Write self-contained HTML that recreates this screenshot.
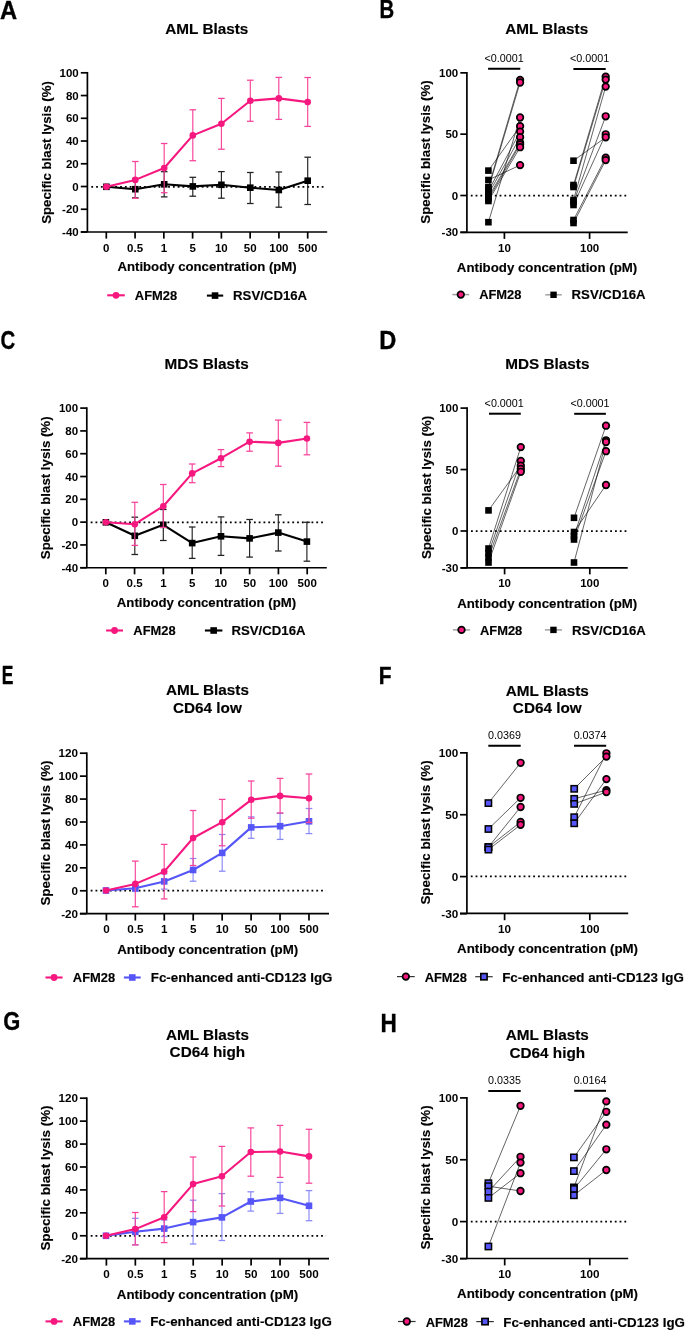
<!DOCTYPE html>
<html><head><meta charset="utf-8"><title>Figure</title>
<style>
html,body{margin:0;padding:0;background:#fff;width:685px;height:1330px;overflow:hidden;}
svg{display:block;will-change:transform;}
text{font-family:"Liberation Sans", sans-serif;fill:#000;}
.h{stroke:#000;stroke-width:0.15px;}
.L{stroke:#000;stroke-width:0.35px;}
</style></head><body>
<svg width="685" height="1330" viewBox="0 0 685 1330">
<rect width="685" height="1330" fill="#fff"/>
<text x="0" y="0" font-size="25.07" font-weight="bold" class="L" transform="translate(0.06,18.65) scale(0.945,1)">A</text>
<text x="206.80" y="34.30" font-size="15.3" font-weight="bold" text-anchor="middle" class="h">AML Blasts</text>
<text x="0" y="0" font-size="13.24" font-weight="bold" class="h" text-anchor="middle" transform="translate(50.60,152.50) rotate(-90)">Specific blast lysis (%)</text>
<text x="117.45" y="271.40" font-size="13.18" font-weight="bold" text-anchor="start" class="h">Antibody concentration (pM)</text>
<line x1="107.20" y1="295.30" x2="124.80" y2="295.30" stroke="#F6177F" stroke-width="2.1"/>
<circle cx="116.00" cy="295.30" r="3.4" fill="#F6177F" stroke="none" stroke-width="0"/>
<text x="134.83" y="300.00" font-size="12.9" font-weight="bold" text-anchor="start" class="h">AFM28</text>
<line x1="206.90" y1="295.60" x2="223.20" y2="295.60" stroke="#000" stroke-width="2.1"/>
<rect x="211.75" y="292.30" width="6.6" height="6.6" fill="#000" stroke="none" stroke-width="0"/>
<text x="233.09" y="300.00" font-size="13.2" font-weight="bold" text-anchor="start" class="h">RSV/CD16A</text>
<line x1="87.40" y1="71.95" x2="87.40" y2="232.00" stroke="#000" stroke-width="1.7"/>
<line x1="80.80" y1="232.00" x2="327.20" y2="232.00" stroke="#000" stroke-width="1.7"/>
<line x1="80.80" y1="72.80" x2="87.40" y2="72.80" stroke="#000" stroke-width="1.7"/>
<text x="78.70" y="76.95" font-size="11.5" font-weight="bold" text-anchor="end">100</text>
<line x1="80.80" y1="95.54" x2="87.40" y2="95.54" stroke="#000" stroke-width="1.7"/>
<text x="78.70" y="99.69" font-size="11.5" font-weight="bold" text-anchor="end">80</text>
<line x1="80.80" y1="118.29" x2="87.40" y2="118.29" stroke="#000" stroke-width="1.7"/>
<text x="78.70" y="122.44" font-size="11.5" font-weight="bold" text-anchor="end">60</text>
<line x1="80.80" y1="141.03" x2="87.40" y2="141.03" stroke="#000" stroke-width="1.7"/>
<text x="78.70" y="145.18" font-size="11.5" font-weight="bold" text-anchor="end">40</text>
<line x1="80.80" y1="163.77" x2="87.40" y2="163.77" stroke="#000" stroke-width="1.7"/>
<text x="78.70" y="167.92" font-size="11.5" font-weight="bold" text-anchor="end">20</text>
<line x1="80.80" y1="186.51" x2="87.40" y2="186.51" stroke="#000" stroke-width="1.7"/>
<text x="78.70" y="190.66" font-size="11.5" font-weight="bold" text-anchor="end">0</text>
<line x1="80.80" y1="209.26" x2="87.40" y2="209.26" stroke="#000" stroke-width="1.7"/>
<text x="78.70" y="213.41" font-size="11.5" font-weight="bold" text-anchor="end">-20</text>
<line x1="80.80" y1="232.00" x2="87.40" y2="232.00" stroke="#000" stroke-width="1.7"/>
<text x="78.70" y="236.15" font-size="11.5" font-weight="bold" text-anchor="end">-40</text>
<line x1="106.30" y1="232.00" x2="106.30" y2="238.60" stroke="#000" stroke-width="1.7"/>
<text x="106.30" y="251.50" font-size="11.5" font-weight="bold" text-anchor="middle">0</text>
<line x1="135.07" y1="232.00" x2="135.07" y2="238.60" stroke="#000" stroke-width="1.7"/>
<text x="135.07" y="251.50" font-size="11.5" font-weight="bold" text-anchor="middle">0.5</text>
<line x1="163.84" y1="232.00" x2="163.84" y2="238.60" stroke="#000" stroke-width="1.7"/>
<text x="163.84" y="251.50" font-size="11.5" font-weight="bold" text-anchor="middle">1</text>
<line x1="192.61" y1="232.00" x2="192.61" y2="238.60" stroke="#000" stroke-width="1.7"/>
<text x="192.61" y="251.50" font-size="11.5" font-weight="bold" text-anchor="middle">5</text>
<line x1="221.38" y1="232.00" x2="221.38" y2="238.60" stroke="#000" stroke-width="1.7"/>
<text x="221.38" y="251.50" font-size="11.5" font-weight="bold" text-anchor="middle">10</text>
<line x1="250.15" y1="232.00" x2="250.15" y2="238.60" stroke="#000" stroke-width="1.7"/>
<text x="250.15" y="251.50" font-size="11.5" font-weight="bold" text-anchor="middle">50</text>
<line x1="278.92" y1="232.00" x2="278.92" y2="238.60" stroke="#000" stroke-width="1.7"/>
<text x="278.92" y="251.50" font-size="11.5" font-weight="bold" text-anchor="middle">100</text>
<line x1="307.69" y1="232.00" x2="307.69" y2="238.60" stroke="#000" stroke-width="1.7"/>
<text x="307.69" y="251.50" font-size="11.5" font-weight="bold" text-anchor="middle">500</text>
<line x1="91.30" y1="186.80" x2="324.20" y2="186.80" stroke="#000" stroke-width="1.8" stroke-dasharray="1.8 3.0"/>
<line x1="135.30" y1="178.50" x2="135.30" y2="197.80" stroke="#222" stroke-width="1.15"/>
<line x1="132.00" y1="178.50" x2="138.60" y2="178.50" stroke="#222" stroke-width="1.265"/>
<line x1="132.00" y1="197.80" x2="138.60" y2="197.80" stroke="#222" stroke-width="1.265"/>
<line x1="164.20" y1="171.70" x2="164.20" y2="196.90" stroke="#222" stroke-width="1.15"/>
<line x1="160.90" y1="171.70" x2="167.50" y2="171.70" stroke="#222" stroke-width="1.265"/>
<line x1="160.90" y1="196.90" x2="167.50" y2="196.90" stroke="#222" stroke-width="1.265"/>
<line x1="192.80" y1="177.30" x2="192.80" y2="196.20" stroke="#222" stroke-width="1.15"/>
<line x1="189.50" y1="177.30" x2="196.10" y2="177.30" stroke="#222" stroke-width="1.265"/>
<line x1="189.50" y1="196.20" x2="196.10" y2="196.20" stroke="#222" stroke-width="1.265"/>
<line x1="221.40" y1="171.60" x2="221.40" y2="198.20" stroke="#222" stroke-width="1.15"/>
<line x1="218.10" y1="171.60" x2="224.70" y2="171.60" stroke="#222" stroke-width="1.265"/>
<line x1="218.10" y1="198.20" x2="224.70" y2="198.20" stroke="#222" stroke-width="1.265"/>
<line x1="250.30" y1="172.50" x2="250.30" y2="203.50" stroke="#222" stroke-width="1.15"/>
<line x1="247.00" y1="172.50" x2="253.60" y2="172.50" stroke="#222" stroke-width="1.265"/>
<line x1="247.00" y1="203.50" x2="253.60" y2="203.50" stroke="#222" stroke-width="1.265"/>
<line x1="278.80" y1="172.00" x2="278.80" y2="207.20" stroke="#222" stroke-width="1.15"/>
<line x1="275.50" y1="172.00" x2="282.10" y2="172.00" stroke="#222" stroke-width="1.265"/>
<line x1="275.50" y1="207.20" x2="282.10" y2="207.20" stroke="#222" stroke-width="1.265"/>
<line x1="307.70" y1="157.20" x2="307.70" y2="204.50" stroke="#222" stroke-width="1.15"/>
<line x1="304.40" y1="157.20" x2="311.00" y2="157.20" stroke="#222" stroke-width="1.265"/>
<line x1="304.40" y1="204.50" x2="311.00" y2="204.50" stroke="#222" stroke-width="1.265"/>
<polyline fill="none" stroke="#000" stroke-width="2.1" stroke-linejoin="round" points="106.40,186.80 135.30,189.20 164.20,184.30 192.80,186.40 221.40,184.80 250.30,187.70 278.80,190.00 307.70,180.70"/>
<rect x="103.10" y="183.50" width="6.6" height="6.6" fill="#000" stroke="none" stroke-width="0"/>
<rect x="132.00" y="185.90" width="6.6" height="6.6" fill="#000" stroke="none" stroke-width="0"/>
<rect x="160.90" y="181.00" width="6.6" height="6.6" fill="#000" stroke="none" stroke-width="0"/>
<rect x="189.50" y="183.10" width="6.6" height="6.6" fill="#000" stroke="none" stroke-width="0"/>
<rect x="218.10" y="181.50" width="6.6" height="6.6" fill="#000" stroke="none" stroke-width="0"/>
<rect x="247.00" y="184.40" width="6.6" height="6.6" fill="#000" stroke="none" stroke-width="0"/>
<rect x="275.50" y="186.70" width="6.6" height="6.6" fill="#000" stroke="none" stroke-width="0"/>
<rect x="304.40" y="177.40" width="6.6" height="6.6" fill="#000" stroke="none" stroke-width="0"/>
<line x1="135.30" y1="161.50" x2="135.30" y2="198.30" stroke="#F7449A" stroke-width="1.15"/>
<line x1="132.00" y1="161.50" x2="138.60" y2="161.50" stroke="#F7449A" stroke-width="1.265"/>
<line x1="132.00" y1="198.30" x2="138.60" y2="198.30" stroke="#F7449A" stroke-width="1.265"/>
<line x1="164.20" y1="143.50" x2="164.20" y2="192.70" stroke="#F7449A" stroke-width="1.15"/>
<line x1="160.90" y1="143.50" x2="167.50" y2="143.50" stroke="#F7449A" stroke-width="1.265"/>
<line x1="160.90" y1="192.70" x2="167.50" y2="192.70" stroke="#F7449A" stroke-width="1.265"/>
<line x1="192.80" y1="109.80" x2="192.80" y2="160.70" stroke="#F7449A" stroke-width="1.15"/>
<line x1="189.50" y1="109.80" x2="196.10" y2="109.80" stroke="#F7449A" stroke-width="1.265"/>
<line x1="189.50" y1="160.70" x2="196.10" y2="160.70" stroke="#F7449A" stroke-width="1.265"/>
<line x1="221.40" y1="98.40" x2="221.40" y2="149.20" stroke="#F7449A" stroke-width="1.15"/>
<line x1="218.10" y1="98.40" x2="224.70" y2="98.40" stroke="#F7449A" stroke-width="1.265"/>
<line x1="218.10" y1="149.20" x2="224.70" y2="149.20" stroke="#F7449A" stroke-width="1.265"/>
<line x1="250.30" y1="80.20" x2="250.30" y2="121.30" stroke="#F7449A" stroke-width="1.15"/>
<line x1="247.00" y1="80.20" x2="253.60" y2="80.20" stroke="#F7449A" stroke-width="1.265"/>
<line x1="247.00" y1="121.30" x2="253.60" y2="121.30" stroke="#F7449A" stroke-width="1.265"/>
<line x1="278.80" y1="77.40" x2="278.80" y2="119.40" stroke="#F7449A" stroke-width="1.15"/>
<line x1="275.50" y1="77.40" x2="282.10" y2="77.40" stroke="#F7449A" stroke-width="1.265"/>
<line x1="275.50" y1="119.40" x2="282.10" y2="119.40" stroke="#F7449A" stroke-width="1.265"/>
<line x1="307.70" y1="77.50" x2="307.70" y2="126.40" stroke="#F7449A" stroke-width="1.15"/>
<line x1="304.40" y1="77.50" x2="311.00" y2="77.50" stroke="#F7449A" stroke-width="1.265"/>
<line x1="304.40" y1="126.40" x2="311.00" y2="126.40" stroke="#F7449A" stroke-width="1.265"/>
<polyline fill="none" stroke="#F6177F" stroke-width="2.1" stroke-linejoin="round" points="106.40,186.80 135.30,179.90 164.20,168.00 192.80,135.40 221.40,123.80 250.30,100.70 278.80,98.40 307.70,102.10"/>
<circle cx="106.40" cy="186.80" r="3.3" fill="#F6177F" stroke="none" stroke-width="0"/>
<circle cx="135.30" cy="179.90" r="3.3" fill="#F6177F" stroke="none" stroke-width="0"/>
<circle cx="164.20" cy="168.00" r="3.3" fill="#F6177F" stroke="none" stroke-width="0"/>
<circle cx="192.80" cy="135.40" r="3.3" fill="#F6177F" stroke="none" stroke-width="0"/>
<circle cx="221.40" cy="123.80" r="3.3" fill="#F6177F" stroke="none" stroke-width="0"/>
<circle cx="250.30" cy="100.70" r="3.3" fill="#F6177F" stroke="none" stroke-width="0"/>
<circle cx="278.80" cy="98.40" r="3.3" fill="#F6177F" stroke="none" stroke-width="0"/>
<circle cx="307.70" cy="102.10" r="3.3" fill="#F6177F" stroke="none" stroke-width="0"/>
<text x="0" y="0" font-size="25.71" font-weight="bold" class="L" transform="translate(0.42,349.39) scale(0.791,1)">C</text>
<text x="206.60" y="369.00" font-size="15.3" font-weight="bold" text-anchor="middle" class="h">MDS Blasts</text>
<text x="0" y="0" font-size="13.24" font-weight="bold" class="h" text-anchor="middle" transform="translate(50.20,487.80) rotate(-90)">Specific blast lysis (%)</text>
<text x="116.85" y="606.80" font-size="13.18" font-weight="bold" text-anchor="start" class="h">Antibody concentration (pM)</text>
<line x1="106.10" y1="630.50" x2="123.00" y2="630.50" stroke="#F6177F" stroke-width="2.1"/>
<circle cx="114.55" cy="630.50" r="3.4" fill="#F6177F" stroke="none" stroke-width="0"/>
<text x="133.33" y="634.70" font-size="12.9" font-weight="bold" text-anchor="start" class="h">AFM28</text>
<line x1="204.90" y1="630.50" x2="222.40" y2="630.50" stroke="#000" stroke-width="2.1"/>
<rect x="210.35" y="627.20" width="6.6" height="6.6" fill="#000" stroke="none" stroke-width="0"/>
<text x="231.49" y="634.70" font-size="13.2" font-weight="bold" text-anchor="start" class="h">RSV/CD16A</text>
<line x1="86.80" y1="407.25" x2="86.80" y2="567.75" stroke="#000" stroke-width="1.7"/>
<line x1="80.20" y1="567.75" x2="326.80" y2="567.75" stroke="#000" stroke-width="1.7"/>
<line x1="80.20" y1="408.10" x2="86.80" y2="408.10" stroke="#000" stroke-width="1.7"/>
<text x="78.10" y="412.25" font-size="11.5" font-weight="bold" text-anchor="end">100</text>
<line x1="80.20" y1="430.91" x2="86.80" y2="430.91" stroke="#000" stroke-width="1.7"/>
<text x="78.10" y="435.06" font-size="11.5" font-weight="bold" text-anchor="end">80</text>
<line x1="80.20" y1="453.71" x2="86.80" y2="453.71" stroke="#000" stroke-width="1.7"/>
<text x="78.10" y="457.86" font-size="11.5" font-weight="bold" text-anchor="end">60</text>
<line x1="80.20" y1="476.52" x2="86.80" y2="476.52" stroke="#000" stroke-width="1.7"/>
<text x="78.10" y="480.67" font-size="11.5" font-weight="bold" text-anchor="end">40</text>
<line x1="80.20" y1="499.33" x2="86.80" y2="499.33" stroke="#000" stroke-width="1.7"/>
<text x="78.10" y="503.48" font-size="11.5" font-weight="bold" text-anchor="end">20</text>
<line x1="80.20" y1="522.14" x2="86.80" y2="522.14" stroke="#000" stroke-width="1.7"/>
<text x="78.10" y="526.29" font-size="11.5" font-weight="bold" text-anchor="end">0</text>
<line x1="80.20" y1="544.94" x2="86.80" y2="544.94" stroke="#000" stroke-width="1.7"/>
<text x="78.10" y="549.09" font-size="11.5" font-weight="bold" text-anchor="end">-20</text>
<line x1="80.20" y1="567.75" x2="86.80" y2="567.75" stroke="#000" stroke-width="1.7"/>
<text x="78.10" y="571.90" font-size="11.5" font-weight="bold" text-anchor="end">-40</text>
<line x1="105.80" y1="567.75" x2="105.80" y2="574.35" stroke="#000" stroke-width="1.7"/>
<text x="105.80" y="587.00" font-size="11.5" font-weight="bold" text-anchor="middle">0</text>
<line x1="134.57" y1="567.75" x2="134.57" y2="574.35" stroke="#000" stroke-width="1.7"/>
<text x="134.57" y="587.00" font-size="11.5" font-weight="bold" text-anchor="middle">0.5</text>
<line x1="163.34" y1="567.75" x2="163.34" y2="574.35" stroke="#000" stroke-width="1.7"/>
<text x="163.34" y="587.00" font-size="11.5" font-weight="bold" text-anchor="middle">1</text>
<line x1="192.11" y1="567.75" x2="192.11" y2="574.35" stroke="#000" stroke-width="1.7"/>
<text x="192.11" y="587.00" font-size="11.5" font-weight="bold" text-anchor="middle">5</text>
<line x1="220.88" y1="567.75" x2="220.88" y2="574.35" stroke="#000" stroke-width="1.7"/>
<text x="220.88" y="587.00" font-size="11.5" font-weight="bold" text-anchor="middle">10</text>
<line x1="249.65" y1="567.75" x2="249.65" y2="574.35" stroke="#000" stroke-width="1.7"/>
<text x="249.65" y="587.00" font-size="11.5" font-weight="bold" text-anchor="middle">50</text>
<line x1="278.42" y1="567.75" x2="278.42" y2="574.35" stroke="#000" stroke-width="1.7"/>
<text x="278.42" y="587.00" font-size="11.5" font-weight="bold" text-anchor="middle">100</text>
<line x1="307.19" y1="567.75" x2="307.19" y2="574.35" stroke="#000" stroke-width="1.7"/>
<text x="307.19" y="587.00" font-size="11.5" font-weight="bold" text-anchor="middle">500</text>
<line x1="90.70" y1="522.30" x2="323.80" y2="522.30" stroke="#000" stroke-width="1.8" stroke-dasharray="1.8 3.0"/>
<line x1="134.80" y1="517.20" x2="134.80" y2="554.50" stroke="#222" stroke-width="1.15"/>
<line x1="131.50" y1="517.20" x2="138.10" y2="517.20" stroke="#222" stroke-width="1.265"/>
<line x1="131.50" y1="554.50" x2="138.10" y2="554.50" stroke="#222" stroke-width="1.265"/>
<line x1="163.30" y1="509.50" x2="163.30" y2="540.50" stroke="#222" stroke-width="1.15"/>
<line x1="160.00" y1="509.50" x2="166.60" y2="509.50" stroke="#222" stroke-width="1.265"/>
<line x1="160.00" y1="540.50" x2="166.60" y2="540.50" stroke="#222" stroke-width="1.265"/>
<line x1="192.20" y1="527.00" x2="192.20" y2="558.40" stroke="#222" stroke-width="1.15"/>
<line x1="188.90" y1="527.00" x2="195.50" y2="527.00" stroke="#222" stroke-width="1.265"/>
<line x1="188.90" y1="558.40" x2="195.50" y2="558.40" stroke="#222" stroke-width="1.265"/>
<line x1="221.00" y1="516.90" x2="221.00" y2="555.40" stroke="#222" stroke-width="1.15"/>
<line x1="217.70" y1="516.90" x2="224.30" y2="516.90" stroke="#222" stroke-width="1.265"/>
<line x1="217.70" y1="555.40" x2="224.30" y2="555.40" stroke="#222" stroke-width="1.265"/>
<line x1="249.60" y1="519.50" x2="249.60" y2="557.10" stroke="#222" stroke-width="1.15"/>
<line x1="246.30" y1="519.50" x2="252.90" y2="519.50" stroke="#222" stroke-width="1.265"/>
<line x1="246.30" y1="557.10" x2="252.90" y2="557.10" stroke="#222" stroke-width="1.265"/>
<line x1="278.30" y1="514.80" x2="278.30" y2="551.00" stroke="#222" stroke-width="1.15"/>
<line x1="275.00" y1="514.80" x2="281.60" y2="514.80" stroke="#222" stroke-width="1.265"/>
<line x1="275.00" y1="551.00" x2="281.60" y2="551.00" stroke="#222" stroke-width="1.265"/>
<line x1="306.90" y1="522.30" x2="306.90" y2="561.20" stroke="#222" stroke-width="1.15"/>
<line x1="303.60" y1="522.30" x2="310.20" y2="522.30" stroke="#222" stroke-width="1.265"/>
<line x1="303.60" y1="561.20" x2="310.20" y2="561.20" stroke="#222" stroke-width="1.265"/>
<polyline fill="none" stroke="#000" stroke-width="2.1" stroke-linejoin="round" points="105.90,522.30 134.80,535.80 163.30,524.80 192.20,543.10 221.00,536.30 249.60,538.40 278.30,532.60 306.90,541.60"/>
<rect x="102.60" y="519.00" width="6.6" height="6.6" fill="#000" stroke="none" stroke-width="0"/>
<rect x="131.50" y="532.50" width="6.6" height="6.6" fill="#000" stroke="none" stroke-width="0"/>
<rect x="160.00" y="521.50" width="6.6" height="6.6" fill="#000" stroke="none" stroke-width="0"/>
<rect x="188.90" y="539.80" width="6.6" height="6.6" fill="#000" stroke="none" stroke-width="0"/>
<rect x="217.70" y="533.00" width="6.6" height="6.6" fill="#000" stroke="none" stroke-width="0"/>
<rect x="246.30" y="535.10" width="6.6" height="6.6" fill="#000" stroke="none" stroke-width="0"/>
<rect x="275.00" y="529.30" width="6.6" height="6.6" fill="#000" stroke="none" stroke-width="0"/>
<rect x="303.60" y="538.30" width="6.6" height="6.6" fill="#000" stroke="none" stroke-width="0"/>
<line x1="134.80" y1="502.30" x2="134.80" y2="545.40" stroke="#F7449A" stroke-width="1.15"/>
<line x1="131.50" y1="502.30" x2="138.10" y2="502.30" stroke="#F7449A" stroke-width="1.265"/>
<line x1="131.50" y1="545.40" x2="138.10" y2="545.40" stroke="#F7449A" stroke-width="1.265"/>
<line x1="163.30" y1="484.50" x2="163.30" y2="527.40" stroke="#F7449A" stroke-width="1.15"/>
<line x1="160.00" y1="484.50" x2="166.60" y2="484.50" stroke="#F7449A" stroke-width="1.265"/>
<line x1="160.00" y1="527.40" x2="166.60" y2="527.40" stroke="#F7449A" stroke-width="1.265"/>
<line x1="192.20" y1="464.00" x2="192.20" y2="482.70" stroke="#F7449A" stroke-width="1.15"/>
<line x1="188.90" y1="464.00" x2="195.50" y2="464.00" stroke="#F7449A" stroke-width="1.265"/>
<line x1="188.90" y1="482.70" x2="195.50" y2="482.70" stroke="#F7449A" stroke-width="1.265"/>
<line x1="221.00" y1="449.60" x2="221.00" y2="466.60" stroke="#F7449A" stroke-width="1.15"/>
<line x1="217.70" y1="449.60" x2="224.30" y2="449.60" stroke="#F7449A" stroke-width="1.265"/>
<line x1="217.70" y1="466.60" x2="224.30" y2="466.60" stroke="#F7449A" stroke-width="1.265"/>
<line x1="249.60" y1="432.90" x2="249.60" y2="451.20" stroke="#F7449A" stroke-width="1.15"/>
<line x1="246.30" y1="432.90" x2="252.90" y2="432.90" stroke="#F7449A" stroke-width="1.265"/>
<line x1="246.30" y1="451.20" x2="252.90" y2="451.20" stroke="#F7449A" stroke-width="1.265"/>
<line x1="278.30" y1="420.10" x2="278.30" y2="466.20" stroke="#F7449A" stroke-width="1.15"/>
<line x1="275.00" y1="420.10" x2="281.60" y2="420.10" stroke="#F7449A" stroke-width="1.265"/>
<line x1="275.00" y1="466.20" x2="281.60" y2="466.20" stroke="#F7449A" stroke-width="1.265"/>
<line x1="306.90" y1="422.40" x2="306.90" y2="454.80" stroke="#F7449A" stroke-width="1.15"/>
<line x1="303.60" y1="422.40" x2="310.20" y2="422.40" stroke="#F7449A" stroke-width="1.265"/>
<line x1="303.60" y1="454.80" x2="310.20" y2="454.80" stroke="#F7449A" stroke-width="1.265"/>
<polyline fill="none" stroke="#F6177F" stroke-width="2.1" stroke-linejoin="round" points="105.90,522.30 134.80,524.20 163.30,506.20 192.20,473.40 221.00,458.20 249.60,441.70 278.30,442.90 306.90,438.50"/>
<circle cx="105.90" cy="522.30" r="3.3" fill="#F6177F" stroke="none" stroke-width="0"/>
<circle cx="134.80" cy="524.20" r="3.3" fill="#F6177F" stroke="none" stroke-width="0"/>
<circle cx="163.30" cy="506.20" r="3.3" fill="#F6177F" stroke="none" stroke-width="0"/>
<circle cx="192.20" cy="473.40" r="3.3" fill="#F6177F" stroke="none" stroke-width="0"/>
<circle cx="221.00" cy="458.20" r="3.3" fill="#F6177F" stroke="none" stroke-width="0"/>
<circle cx="249.60" cy="441.70" r="3.3" fill="#F6177F" stroke="none" stroke-width="0"/>
<circle cx="278.30" cy="442.90" r="3.3" fill="#F6177F" stroke="none" stroke-width="0"/>
<circle cx="306.90" cy="438.50" r="3.3" fill="#F6177F" stroke="none" stroke-width="0"/>
<text x="0" y="0" font-size="24.85" font-weight="bold" class="L" transform="translate(1.78,683.65) scale(0.703,1)">E</text>
<text x="207.40" y="695.40" font-size="15.3" font-weight="bold" text-anchor="middle" class="h">AML Blasts</text>
<text x="207.40" y="713.20" font-size="15.3" font-weight="bold" text-anchor="middle" class="h">CD64 low</text>
<text x="0" y="0" font-size="13.48" font-weight="bold" class="h" text-anchor="middle" transform="translate(50.00,833.00) rotate(-90)">Specific blast lysis (%)</text>
<text x="117.25" y="953.60" font-size="13.31" font-weight="bold" text-anchor="start" class="h">Antibody concentration (pM)</text>
<line x1="45.50" y1="977.50" x2="62.60" y2="977.50" stroke="#F6177F" stroke-width="2.1"/>
<circle cx="54.05" cy="977.50" r="3.4" fill="#F6177F" stroke="none" stroke-width="0"/>
<text x="72.83" y="982.40" font-size="12.9" font-weight="bold" text-anchor="start" class="h">AFM28</text>
<line x1="123.90" y1="977.50" x2="140.70" y2="977.50" stroke="#5656F8" stroke-width="2.1"/>
<rect x="129.00" y="974.20" width="6.6" height="6.6" fill="#5656F8" stroke="none" stroke-width="0"/>
<text x="150.78" y="982.40" font-size="13.35" font-weight="bold" text-anchor="start" class="h">Fc-enhanced anti-CD123 IgG</text>
<line x1="86.80" y1="752.35" x2="86.80" y2="913.70" stroke="#000" stroke-width="1.7"/>
<line x1="79.90" y1="913.70" x2="329.00" y2="913.70" stroke="#000" stroke-width="1.7"/>
<line x1="79.90" y1="753.20" x2="86.80" y2="753.20" stroke="#000" stroke-width="1.7"/>
<text x="78.10" y="757.35" font-size="11.7" font-weight="bold" text-anchor="end">120</text>
<line x1="79.90" y1="776.13" x2="86.80" y2="776.13" stroke="#000" stroke-width="1.7"/>
<text x="78.10" y="780.28" font-size="11.7" font-weight="bold" text-anchor="end">100</text>
<line x1="79.90" y1="799.06" x2="86.80" y2="799.06" stroke="#000" stroke-width="1.7"/>
<text x="78.10" y="803.21" font-size="11.7" font-weight="bold" text-anchor="end">80</text>
<line x1="79.90" y1="821.99" x2="86.80" y2="821.99" stroke="#000" stroke-width="1.7"/>
<text x="78.10" y="826.14" font-size="11.7" font-weight="bold" text-anchor="end">60</text>
<line x1="79.90" y1="844.91" x2="86.80" y2="844.91" stroke="#000" stroke-width="1.7"/>
<text x="78.10" y="849.06" font-size="11.7" font-weight="bold" text-anchor="end">40</text>
<line x1="79.90" y1="867.84" x2="86.80" y2="867.84" stroke="#000" stroke-width="1.7"/>
<text x="78.10" y="871.99" font-size="11.7" font-weight="bold" text-anchor="end">20</text>
<line x1="79.90" y1="890.77" x2="86.80" y2="890.77" stroke="#000" stroke-width="1.7"/>
<text x="78.10" y="894.92" font-size="11.7" font-weight="bold" text-anchor="end">0</text>
<line x1="79.90" y1="913.70" x2="86.80" y2="913.70" stroke="#000" stroke-width="1.7"/>
<text x="78.10" y="917.85" font-size="11.7" font-weight="bold" text-anchor="end">-20</text>
<line x1="106.40" y1="913.70" x2="106.40" y2="920.60" stroke="#000" stroke-width="1.7"/>
<text x="106.40" y="933.20" font-size="11.7" font-weight="bold" text-anchor="middle">0</text>
<line x1="135.34" y1="913.70" x2="135.34" y2="920.60" stroke="#000" stroke-width="1.7"/>
<text x="135.34" y="933.20" font-size="11.7" font-weight="bold" text-anchor="middle">0.5</text>
<line x1="164.28" y1="913.70" x2="164.28" y2="920.60" stroke="#000" stroke-width="1.7"/>
<text x="164.28" y="933.20" font-size="11.7" font-weight="bold" text-anchor="middle">1</text>
<line x1="193.22" y1="913.70" x2="193.22" y2="920.60" stroke="#000" stroke-width="1.7"/>
<text x="193.22" y="933.20" font-size="11.7" font-weight="bold" text-anchor="middle">5</text>
<line x1="222.16" y1="913.70" x2="222.16" y2="920.60" stroke="#000" stroke-width="1.7"/>
<text x="222.16" y="933.20" font-size="11.7" font-weight="bold" text-anchor="middle">10</text>
<line x1="251.10" y1="913.70" x2="251.10" y2="920.60" stroke="#000" stroke-width="1.7"/>
<text x="251.10" y="933.20" font-size="11.7" font-weight="bold" text-anchor="middle">50</text>
<line x1="280.04" y1="913.70" x2="280.04" y2="920.60" stroke="#000" stroke-width="1.7"/>
<text x="280.04" y="933.20" font-size="11.7" font-weight="bold" text-anchor="middle">100</text>
<line x1="308.98" y1="913.70" x2="308.98" y2="920.60" stroke="#000" stroke-width="1.7"/>
<text x="308.98" y="933.20" font-size="11.7" font-weight="bold" text-anchor="middle">500</text>
<line x1="90.70" y1="890.60" x2="326.00" y2="890.60" stroke="#000" stroke-width="1.8" stroke-dasharray="1.8 3.0"/>
<line x1="135.30" y1="885.50" x2="135.30" y2="891.50" stroke="#8A8AF9" stroke-width="1.15"/>
<line x1="132.00" y1="885.50" x2="138.60" y2="885.50" stroke="#8A8AF9" stroke-width="1.265"/>
<line x1="132.00" y1="891.50" x2="138.60" y2="891.50" stroke="#8A8AF9" stroke-width="1.265"/>
<line x1="164.20" y1="873.90" x2="164.20" y2="889.10" stroke="#8A8AF9" stroke-width="1.15"/>
<line x1="160.90" y1="873.90" x2="167.50" y2="873.90" stroke="#8A8AF9" stroke-width="1.265"/>
<line x1="160.90" y1="889.10" x2="167.50" y2="889.10" stroke="#8A8AF9" stroke-width="1.265"/>
<line x1="193.10" y1="858.50" x2="193.10" y2="881.20" stroke="#8A8AF9" stroke-width="1.15"/>
<line x1="189.80" y1="858.50" x2="196.40" y2="858.50" stroke="#8A8AF9" stroke-width="1.265"/>
<line x1="189.80" y1="881.20" x2="196.40" y2="881.20" stroke="#8A8AF9" stroke-width="1.265"/>
<line x1="222.20" y1="834.50" x2="222.20" y2="871.20" stroke="#8A8AF9" stroke-width="1.15"/>
<line x1="218.90" y1="834.50" x2="225.50" y2="834.50" stroke="#8A8AF9" stroke-width="1.265"/>
<line x1="218.90" y1="871.20" x2="225.50" y2="871.20" stroke="#8A8AF9" stroke-width="1.265"/>
<line x1="251.20" y1="816.90" x2="251.20" y2="838.30" stroke="#8A8AF9" stroke-width="1.15"/>
<line x1="247.90" y1="816.90" x2="254.50" y2="816.90" stroke="#8A8AF9" stroke-width="1.265"/>
<line x1="247.90" y1="838.30" x2="254.50" y2="838.30" stroke="#8A8AF9" stroke-width="1.265"/>
<line x1="280.10" y1="813.40" x2="280.10" y2="839.40" stroke="#8A8AF9" stroke-width="1.15"/>
<line x1="276.80" y1="813.40" x2="283.40" y2="813.40" stroke="#8A8AF9" stroke-width="1.265"/>
<line x1="276.80" y1="839.40" x2="283.40" y2="839.40" stroke="#8A8AF9" stroke-width="1.265"/>
<line x1="309.00" y1="808.50" x2="309.00" y2="833.60" stroke="#8A8AF9" stroke-width="1.15"/>
<line x1="305.70" y1="808.50" x2="312.30" y2="808.50" stroke="#8A8AF9" stroke-width="1.265"/>
<line x1="305.70" y1="833.60" x2="312.30" y2="833.60" stroke="#8A8AF9" stroke-width="1.265"/>
<polyline fill="none" stroke="#5656F8" stroke-width="2.1" stroke-linejoin="round" points="106.00,890.50 135.30,888.20 164.20,881.40 193.10,870.00 222.20,852.90 251.20,827.40 280.10,826.20 309.00,821.30"/>
<rect x="102.70" y="887.20" width="6.6" height="6.6" fill="#5656F8" stroke="none" stroke-width="0"/>
<rect x="132.00" y="884.90" width="6.6" height="6.6" fill="#5656F8" stroke="none" stroke-width="0"/>
<rect x="160.90" y="878.10" width="6.6" height="6.6" fill="#5656F8" stroke="none" stroke-width="0"/>
<rect x="189.80" y="866.70" width="6.6" height="6.6" fill="#5656F8" stroke="none" stroke-width="0"/>
<rect x="218.90" y="849.60" width="6.6" height="6.6" fill="#5656F8" stroke="none" stroke-width="0"/>
<rect x="247.90" y="824.10" width="6.6" height="6.6" fill="#5656F8" stroke="none" stroke-width="0"/>
<rect x="276.80" y="822.90" width="6.6" height="6.6" fill="#5656F8" stroke="none" stroke-width="0"/>
<rect x="305.70" y="818.00" width="6.6" height="6.6" fill="#5656F8" stroke="none" stroke-width="0"/>
<line x1="135.30" y1="861.10" x2="135.30" y2="906.80" stroke="#F7449A" stroke-width="1.15"/>
<line x1="132.00" y1="861.10" x2="138.60" y2="861.10" stroke="#F7449A" stroke-width="1.265"/>
<line x1="132.00" y1="906.80" x2="138.60" y2="906.80" stroke="#F7449A" stroke-width="1.265"/>
<line x1="164.20" y1="844.40" x2="164.20" y2="898.90" stroke="#F7449A" stroke-width="1.15"/>
<line x1="160.90" y1="844.40" x2="167.50" y2="844.40" stroke="#F7449A" stroke-width="1.265"/>
<line x1="160.90" y1="898.90" x2="167.50" y2="898.90" stroke="#F7449A" stroke-width="1.265"/>
<line x1="193.10" y1="810.50" x2="193.10" y2="865.50" stroke="#F7449A" stroke-width="1.15"/>
<line x1="189.80" y1="810.50" x2="196.40" y2="810.50" stroke="#F7449A" stroke-width="1.265"/>
<line x1="189.80" y1="865.50" x2="196.40" y2="865.50" stroke="#F7449A" stroke-width="1.265"/>
<line x1="222.20" y1="799.40" x2="222.20" y2="845.80" stroke="#F7449A" stroke-width="1.15"/>
<line x1="218.90" y1="799.40" x2="225.50" y2="799.40" stroke="#F7449A" stroke-width="1.265"/>
<line x1="218.90" y1="845.80" x2="225.50" y2="845.80" stroke="#F7449A" stroke-width="1.265"/>
<line x1="251.20" y1="781.00" x2="251.20" y2="818.20" stroke="#F7449A" stroke-width="1.15"/>
<line x1="247.90" y1="781.00" x2="254.50" y2="781.00" stroke="#F7449A" stroke-width="1.265"/>
<line x1="247.90" y1="818.20" x2="254.50" y2="818.20" stroke="#F7449A" stroke-width="1.265"/>
<line x1="280.10" y1="778.40" x2="280.10" y2="812.90" stroke="#F7449A" stroke-width="1.15"/>
<line x1="276.80" y1="778.40" x2="283.40" y2="778.40" stroke="#F7449A" stroke-width="1.265"/>
<line x1="276.80" y1="812.90" x2="283.40" y2="812.90" stroke="#F7449A" stroke-width="1.265"/>
<line x1="309.00" y1="774.00" x2="309.00" y2="822.50" stroke="#F7449A" stroke-width="1.15"/>
<line x1="305.70" y1="774.00" x2="312.30" y2="774.00" stroke="#F7449A" stroke-width="1.265"/>
<line x1="305.70" y1="822.50" x2="312.30" y2="822.50" stroke="#F7449A" stroke-width="1.265"/>
<polyline fill="none" stroke="#F6177F" stroke-width="2.1" stroke-linejoin="round" points="106.00,890.50 135.30,883.90 164.20,871.60 193.10,838.00 222.20,822.20 251.20,799.80 280.10,795.90 309.00,798.20"/>
<circle cx="106.00" cy="890.50" r="3.3" fill="#F6177F" stroke="none" stroke-width="0"/>
<circle cx="135.30" cy="883.90" r="3.3" fill="#F6177F" stroke="none" stroke-width="0"/>
<circle cx="164.20" cy="871.60" r="3.3" fill="#F6177F" stroke="none" stroke-width="0"/>
<circle cx="193.10" cy="838.00" r="3.3" fill="#F6177F" stroke="none" stroke-width="0"/>
<circle cx="222.20" cy="822.20" r="3.3" fill="#F6177F" stroke="none" stroke-width="0"/>
<circle cx="251.20" cy="799.80" r="3.3" fill="#F6177F" stroke="none" stroke-width="0"/>
<circle cx="280.10" cy="795.90" r="3.3" fill="#F6177F" stroke="none" stroke-width="0"/>
<circle cx="309.00" cy="798.20" r="3.3" fill="#F6177F" stroke="none" stroke-width="0"/>
<text x="0" y="0" font-size="25.85" font-weight="bold" class="L" transform="translate(3.25,1030.39) scale(0.848,1)">G</text>
<text x="207.40" y="1039.60" font-size="15.3" font-weight="bold" text-anchor="middle" class="h">AML Blasts</text>
<text x="207.40" y="1057.30" font-size="15.3" font-weight="bold" text-anchor="middle" class="h">CD64 high</text>
<text x="0" y="0" font-size="13.48" font-weight="bold" class="h" text-anchor="middle" transform="translate(50.00,1178.00) rotate(-90)">Specific blast lysis (%)</text>
<text x="116.85" y="1298.80" font-size="13.34" font-weight="bold" text-anchor="start" class="h">Antibody concentration (pM)</text>
<line x1="45.50" y1="1321.40" x2="62.60" y2="1321.40" stroke="#F6177F" stroke-width="2.1"/>
<circle cx="54.05" cy="1321.40" r="3.4" fill="#F6177F" stroke="none" stroke-width="0"/>
<text x="72.83" y="1326.20" font-size="12.9" font-weight="bold" text-anchor="start" class="h">AFM28</text>
<line x1="123.90" y1="1321.40" x2="140.70" y2="1321.40" stroke="#5656F8" stroke-width="2.1"/>
<rect x="129.00" y="1318.10" width="6.6" height="6.6" fill="#5656F8" stroke="none" stroke-width="0"/>
<text x="150.18" y="1326.20" font-size="13.35" font-weight="bold" text-anchor="start" class="h">Fc-enhanced anti-CD123 IgG</text>
<line x1="86.80" y1="1097.35" x2="86.80" y2="1258.70" stroke="#000" stroke-width="1.7"/>
<line x1="79.90" y1="1258.70" x2="329.00" y2="1258.70" stroke="#000" stroke-width="1.7"/>
<line x1="79.90" y1="1098.20" x2="86.80" y2="1098.20" stroke="#000" stroke-width="1.7"/>
<text x="78.10" y="1102.35" font-size="11.7" font-weight="bold" text-anchor="end">120</text>
<line x1="79.90" y1="1121.13" x2="86.80" y2="1121.13" stroke="#000" stroke-width="1.7"/>
<text x="78.10" y="1125.28" font-size="11.7" font-weight="bold" text-anchor="end">100</text>
<line x1="79.90" y1="1144.06" x2="86.80" y2="1144.06" stroke="#000" stroke-width="1.7"/>
<text x="78.10" y="1148.21" font-size="11.7" font-weight="bold" text-anchor="end">80</text>
<line x1="79.90" y1="1166.99" x2="86.80" y2="1166.99" stroke="#000" stroke-width="1.7"/>
<text x="78.10" y="1171.14" font-size="11.7" font-weight="bold" text-anchor="end">60</text>
<line x1="79.90" y1="1189.91" x2="86.80" y2="1189.91" stroke="#000" stroke-width="1.7"/>
<text x="78.10" y="1194.06" font-size="11.7" font-weight="bold" text-anchor="end">40</text>
<line x1="79.90" y1="1212.84" x2="86.80" y2="1212.84" stroke="#000" stroke-width="1.7"/>
<text x="78.10" y="1216.99" font-size="11.7" font-weight="bold" text-anchor="end">20</text>
<line x1="79.90" y1="1235.77" x2="86.80" y2="1235.77" stroke="#000" stroke-width="1.7"/>
<text x="78.10" y="1239.92" font-size="11.7" font-weight="bold" text-anchor="end">0</text>
<line x1="79.90" y1="1258.70" x2="86.80" y2="1258.70" stroke="#000" stroke-width="1.7"/>
<text x="78.10" y="1262.85" font-size="11.7" font-weight="bold" text-anchor="end">-20</text>
<line x1="106.40" y1="1258.70" x2="106.40" y2="1265.60" stroke="#000" stroke-width="1.7"/>
<text x="106.40" y="1278.20" font-size="11.7" font-weight="bold" text-anchor="middle">0</text>
<line x1="135.34" y1="1258.70" x2="135.34" y2="1265.60" stroke="#000" stroke-width="1.7"/>
<text x="135.34" y="1278.20" font-size="11.7" font-weight="bold" text-anchor="middle">0.5</text>
<line x1="164.28" y1="1258.70" x2="164.28" y2="1265.60" stroke="#000" stroke-width="1.7"/>
<text x="164.28" y="1278.20" font-size="11.7" font-weight="bold" text-anchor="middle">1</text>
<line x1="193.22" y1="1258.70" x2="193.22" y2="1265.60" stroke="#000" stroke-width="1.7"/>
<text x="193.22" y="1278.20" font-size="11.7" font-weight="bold" text-anchor="middle">5</text>
<line x1="222.16" y1="1258.70" x2="222.16" y2="1265.60" stroke="#000" stroke-width="1.7"/>
<text x="222.16" y="1278.20" font-size="11.7" font-weight="bold" text-anchor="middle">10</text>
<line x1="251.10" y1="1258.70" x2="251.10" y2="1265.60" stroke="#000" stroke-width="1.7"/>
<text x="251.10" y="1278.20" font-size="11.7" font-weight="bold" text-anchor="middle">50</text>
<line x1="280.04" y1="1258.70" x2="280.04" y2="1265.60" stroke="#000" stroke-width="1.7"/>
<text x="280.04" y="1278.20" font-size="11.7" font-weight="bold" text-anchor="middle">100</text>
<line x1="308.98" y1="1258.70" x2="308.98" y2="1265.60" stroke="#000" stroke-width="1.7"/>
<text x="308.98" y="1278.20" font-size="11.7" font-weight="bold" text-anchor="middle">500</text>
<line x1="90.70" y1="1235.80" x2="326.00" y2="1235.80" stroke="#000" stroke-width="1.8" stroke-dasharray="1.8 3.0"/>
<line x1="135.30" y1="1218.30" x2="135.30" y2="1244.90" stroke="#8A8AF9" stroke-width="1.15"/>
<line x1="132.00" y1="1218.30" x2="138.60" y2="1218.30" stroke="#8A8AF9" stroke-width="1.265"/>
<line x1="132.00" y1="1244.90" x2="138.60" y2="1244.90" stroke="#8A8AF9" stroke-width="1.265"/>
<line x1="164.20" y1="1220.00" x2="164.20" y2="1236.50" stroke="#8A8AF9" stroke-width="1.15"/>
<line x1="160.90" y1="1220.00" x2="167.50" y2="1220.00" stroke="#8A8AF9" stroke-width="1.265"/>
<line x1="160.90" y1="1236.50" x2="167.50" y2="1236.50" stroke="#8A8AF9" stroke-width="1.265"/>
<line x1="193.10" y1="1200.20" x2="193.10" y2="1244.00" stroke="#8A8AF9" stroke-width="1.15"/>
<line x1="189.80" y1="1200.20" x2="196.40" y2="1200.20" stroke="#8A8AF9" stroke-width="1.265"/>
<line x1="189.80" y1="1244.00" x2="196.40" y2="1244.00" stroke="#8A8AF9" stroke-width="1.265"/>
<line x1="221.90" y1="1193.60" x2="221.90" y2="1240.50" stroke="#8A8AF9" stroke-width="1.15"/>
<line x1="218.60" y1="1193.60" x2="225.20" y2="1193.60" stroke="#8A8AF9" stroke-width="1.265"/>
<line x1="218.60" y1="1240.50" x2="225.20" y2="1240.50" stroke="#8A8AF9" stroke-width="1.265"/>
<line x1="250.80" y1="1191.80" x2="250.80" y2="1211.10" stroke="#8A8AF9" stroke-width="1.15"/>
<line x1="247.50" y1="1191.80" x2="254.10" y2="1191.80" stroke="#8A8AF9" stroke-width="1.265"/>
<line x1="247.50" y1="1211.10" x2="254.10" y2="1211.10" stroke="#8A8AF9" stroke-width="1.265"/>
<line x1="280.10" y1="1182.40" x2="280.10" y2="1213.40" stroke="#8A8AF9" stroke-width="1.15"/>
<line x1="276.80" y1="1182.40" x2="283.40" y2="1182.40" stroke="#8A8AF9" stroke-width="1.265"/>
<line x1="276.80" y1="1213.40" x2="283.40" y2="1213.40" stroke="#8A8AF9" stroke-width="1.265"/>
<line x1="309.00" y1="1190.60" x2="309.00" y2="1220.70" stroke="#8A8AF9" stroke-width="1.15"/>
<line x1="305.70" y1="1190.60" x2="312.30" y2="1190.60" stroke="#8A8AF9" stroke-width="1.265"/>
<line x1="305.70" y1="1220.70" x2="312.30" y2="1220.70" stroke="#8A8AF9" stroke-width="1.265"/>
<polyline fill="none" stroke="#5656F8" stroke-width="2.1" stroke-linejoin="round" points="106.00,1235.80 135.30,1231.80 164.20,1228.60 193.10,1222.10 221.90,1217.40 250.80,1201.50 280.10,1197.90 309.00,1205.80"/>
<rect x="102.70" y="1232.50" width="6.6" height="6.6" fill="#5656F8" stroke="none" stroke-width="0"/>
<rect x="132.00" y="1228.50" width="6.6" height="6.6" fill="#5656F8" stroke="none" stroke-width="0"/>
<rect x="160.90" y="1225.30" width="6.6" height="6.6" fill="#5656F8" stroke="none" stroke-width="0"/>
<rect x="189.80" y="1218.80" width="6.6" height="6.6" fill="#5656F8" stroke="none" stroke-width="0"/>
<rect x="218.60" y="1214.10" width="6.6" height="6.6" fill="#5656F8" stroke="none" stroke-width="0"/>
<rect x="247.50" y="1198.20" width="6.6" height="6.6" fill="#5656F8" stroke="none" stroke-width="0"/>
<rect x="276.80" y="1194.60" width="6.6" height="6.6" fill="#5656F8" stroke="none" stroke-width="0"/>
<rect x="305.70" y="1202.50" width="6.6" height="6.6" fill="#5656F8" stroke="none" stroke-width="0"/>
<line x1="135.30" y1="1212.50" x2="135.30" y2="1244.90" stroke="#F7449A" stroke-width="1.15"/>
<line x1="132.00" y1="1212.50" x2="138.60" y2="1212.50" stroke="#F7449A" stroke-width="1.265"/>
<line x1="132.00" y1="1244.90" x2="138.60" y2="1244.90" stroke="#F7449A" stroke-width="1.265"/>
<line x1="164.20" y1="1191.60" x2="164.20" y2="1242.60" stroke="#F7449A" stroke-width="1.15"/>
<line x1="160.90" y1="1191.60" x2="167.50" y2="1191.60" stroke="#F7449A" stroke-width="1.265"/>
<line x1="160.90" y1="1242.60" x2="167.50" y2="1242.60" stroke="#F7449A" stroke-width="1.265"/>
<line x1="193.10" y1="1157.00" x2="193.10" y2="1211.60" stroke="#F7449A" stroke-width="1.15"/>
<line x1="189.80" y1="1157.00" x2="196.40" y2="1157.00" stroke="#F7449A" stroke-width="1.265"/>
<line x1="189.80" y1="1211.60" x2="196.40" y2="1211.60" stroke="#F7449A" stroke-width="1.265"/>
<line x1="221.90" y1="1146.40" x2="221.90" y2="1206.00" stroke="#F7449A" stroke-width="1.15"/>
<line x1="218.60" y1="1146.40" x2="225.20" y2="1146.40" stroke="#F7449A" stroke-width="1.265"/>
<line x1="218.60" y1="1206.00" x2="225.20" y2="1206.00" stroke="#F7449A" stroke-width="1.265"/>
<line x1="250.80" y1="1127.90" x2="250.80" y2="1176.20" stroke="#F7449A" stroke-width="1.15"/>
<line x1="247.50" y1="1127.90" x2="254.10" y2="1127.90" stroke="#F7449A" stroke-width="1.265"/>
<line x1="247.50" y1="1176.20" x2="254.10" y2="1176.20" stroke="#F7449A" stroke-width="1.265"/>
<line x1="280.10" y1="1125.40" x2="280.10" y2="1177.40" stroke="#F7449A" stroke-width="1.15"/>
<line x1="276.80" y1="1125.40" x2="283.40" y2="1125.40" stroke="#F7449A" stroke-width="1.265"/>
<line x1="276.80" y1="1177.40" x2="283.40" y2="1177.40" stroke="#F7449A" stroke-width="1.265"/>
<line x1="309.00" y1="1129.30" x2="309.00" y2="1183.20" stroke="#F7449A" stroke-width="1.15"/>
<line x1="305.70" y1="1129.30" x2="312.30" y2="1129.30" stroke="#F7449A" stroke-width="1.265"/>
<line x1="305.70" y1="1183.20" x2="312.30" y2="1183.20" stroke="#F7449A" stroke-width="1.265"/>
<polyline fill="none" stroke="#F6177F" stroke-width="2.1" stroke-linejoin="round" points="106.00,1235.80 135.30,1229.10 164.20,1217.20 193.10,1184.10 221.90,1176.20 250.80,1152.00 280.10,1151.50 309.00,1156.40"/>
<circle cx="106.00" cy="1235.80" r="3.3" fill="#F6177F" stroke="none" stroke-width="0"/>
<circle cx="135.30" cy="1229.10" r="3.3" fill="#F6177F" stroke="none" stroke-width="0"/>
<circle cx="164.20" cy="1217.20" r="3.3" fill="#F6177F" stroke="none" stroke-width="0"/>
<circle cx="193.10" cy="1184.10" r="3.3" fill="#F6177F" stroke="none" stroke-width="0"/>
<circle cx="221.90" cy="1176.20" r="3.3" fill="#F6177F" stroke="none" stroke-width="0"/>
<circle cx="250.80" cy="1152.00" r="3.3" fill="#F6177F" stroke="none" stroke-width="0"/>
<circle cx="280.10" cy="1151.50" r="3.3" fill="#F6177F" stroke="none" stroke-width="0"/>
<circle cx="309.00" cy="1156.40" r="3.3" fill="#F6177F" stroke="none" stroke-width="0"/>
<text x="0" y="0" font-size="25.00" font-weight="bold" class="L" transform="translate(379.59,17.55) scale(0.813,1)">B</text>
<text x="546.70" y="34.00" font-size="15.3" font-weight="bold" text-anchor="middle" class="h">AML Blasts</text>
<text x="0" y="0" font-size="13.31" font-weight="bold" class="h" text-anchor="middle" transform="translate(430.40,152.05) rotate(-90)">Specific blast lysis (%)</text>
<text x="456.85" y="271.50" font-size="13.26" font-weight="bold" text-anchor="start" class="h">Antibody concentration (pM)</text>
<line x1="452.40" y1="294.60" x2="469.20" y2="294.60" stroke="#a0a0a0" stroke-width="1.5"/>
<circle cx="460.80" cy="294.60" r="3.3" fill="#F6177F" stroke="#000" stroke-width="1.7"/>
<text x="479.13" y="299.40" font-size="12.9" font-weight="bold" text-anchor="start" class="h">AFM28</text>
<line x1="545.30" y1="294.80" x2="561.80" y2="294.80" stroke="#a0a0a0" stroke-width="1.5"/>
<rect x="550.35" y="291.60" width="6.4" height="6.4" fill="#000" stroke="none" stroke-width="0"/>
<text x="571.59" y="299.40" font-size="13.2" font-weight="bold" text-anchor="start" class="h">RSV/CD16A</text>
<line x1="466.90" y1="72.00" x2="466.90" y2="232.30" stroke="#000" stroke-width="1.7"/>
<line x1="460.30" y1="232.30" x2="627.70" y2="232.30" stroke="#000" stroke-width="1.7"/>
<line x1="460.30" y1="72.85" x2="466.90" y2="72.85" stroke="#000" stroke-width="1.7"/>
<text x="458.20" y="77.00" font-size="11.5" font-weight="bold" text-anchor="end">100</text>
<line x1="460.30" y1="134.17" x2="466.90" y2="134.17" stroke="#000" stroke-width="1.7"/>
<text x="458.20" y="138.32" font-size="11.5" font-weight="bold" text-anchor="end">50</text>
<line x1="460.30" y1="195.50" x2="466.90" y2="195.50" stroke="#000" stroke-width="1.7"/>
<text x="458.20" y="199.65" font-size="11.5" font-weight="bold" text-anchor="end">0</text>
<line x1="460.30" y1="232.30" x2="466.90" y2="232.30" stroke="#000" stroke-width="1.7"/>
<text x="458.20" y="236.45" font-size="11.5" font-weight="bold" text-anchor="end">-30</text>
<line x1="504.40" y1="232.30" x2="504.40" y2="238.90" stroke="#000" stroke-width="1.7"/>
<text x="504.40" y="251.60" font-size="11.5" font-weight="bold" text-anchor="middle">10</text>
<line x1="589.60" y1="232.30" x2="589.60" y2="238.90" stroke="#000" stroke-width="1.7"/>
<text x="589.60" y="251.60" font-size="11.5" font-weight="bold" text-anchor="middle">100</text>
<line x1="470.80" y1="195.60" x2="626.70" y2="195.60" stroke="#000" stroke-width="1.8" stroke-dasharray="1.8 3.0"/>
<text x="504.10" y="61.60" font-size="10.75" font-weight="normal" text-anchor="middle">&lt;0.0001</text>
<line x1="488.10" y1="68.80" x2="520.30" y2="68.80" stroke="#000" stroke-width="2.0"/>
<text x="589.60" y="62.00" font-size="10.75" font-weight="normal" text-anchor="middle">&lt;0.0001</text>
<line x1="573.40" y1="68.90" x2="605.70" y2="68.90" stroke="#000" stroke-width="2.0"/>
<line x1="488.40" y1="170.60" x2="520.10" y2="126.20" stroke="#111" stroke-width="0.65"/>
<line x1="488.40" y1="180.00" x2="520.10" y2="165.10" stroke="#111" stroke-width="0.65"/>
<line x1="488.40" y1="187.20" x2="520.10" y2="79.90" stroke="#111" stroke-width="0.65"/>
<line x1="488.40" y1="189.00" x2="520.10" y2="82.50" stroke="#111" stroke-width="0.65"/>
<line x1="488.40" y1="191.00" x2="520.10" y2="131.60" stroke="#111" stroke-width="0.65"/>
<line x1="488.40" y1="194.00" x2="520.10" y2="137.20" stroke="#111" stroke-width="0.65"/>
<line x1="488.40" y1="197.00" x2="520.10" y2="142.80" stroke="#111" stroke-width="0.65"/>
<line x1="488.40" y1="199.00" x2="520.10" y2="144.50" stroke="#111" stroke-width="0.65"/>
<line x1="488.40" y1="201.00" x2="520.10" y2="147.20" stroke="#111" stroke-width="0.65"/>
<line x1="488.40" y1="222.20" x2="520.10" y2="117.50" stroke="#111" stroke-width="0.65"/>
<line x1="573.50" y1="160.70" x2="605.70" y2="137.30" stroke="#111" stroke-width="0.65"/>
<line x1="573.50" y1="185.00" x2="605.70" y2="76.60" stroke="#111" stroke-width="0.65"/>
<line x1="573.50" y1="187.00" x2="605.70" y2="79.60" stroke="#111" stroke-width="0.65"/>
<line x1="573.50" y1="200.00" x2="605.70" y2="86.60" stroke="#111" stroke-width="0.65"/>
<line x1="573.50" y1="202.00" x2="605.70" y2="116.30" stroke="#111" stroke-width="0.65"/>
<line x1="573.50" y1="205.00" x2="605.70" y2="134.30" stroke="#111" stroke-width="0.65"/>
<line x1="573.50" y1="220.00" x2="605.70" y2="157.70" stroke="#111" stroke-width="0.65"/>
<line x1="573.50" y1="223.00" x2="605.70" y2="160.10" stroke="#111" stroke-width="0.65"/>
<rect x="485.10" y="167.30" width="6.6" height="6.6" fill="#000" stroke="none" stroke-width="0"/>
<rect x="485.10" y="176.70" width="6.6" height="6.6" fill="#000" stroke="none" stroke-width="0"/>
<rect x="485.10" y="183.90" width="6.6" height="6.6" fill="#000" stroke="none" stroke-width="0"/>
<rect x="485.10" y="185.70" width="6.6" height="6.6" fill="#000" stroke="none" stroke-width="0"/>
<rect x="485.10" y="187.70" width="6.6" height="6.6" fill="#000" stroke="none" stroke-width="0"/>
<rect x="485.10" y="190.70" width="6.6" height="6.6" fill="#000" stroke="none" stroke-width="0"/>
<rect x="485.10" y="193.70" width="6.6" height="6.6" fill="#000" stroke="none" stroke-width="0"/>
<rect x="485.10" y="195.70" width="6.6" height="6.6" fill="#000" stroke="none" stroke-width="0"/>
<rect x="485.10" y="197.70" width="6.6" height="6.6" fill="#000" stroke="none" stroke-width="0"/>
<rect x="485.10" y="218.90" width="6.6" height="6.6" fill="#000" stroke="none" stroke-width="0"/>
<circle cx="520.10" cy="79.90" r="3.3" fill="#F6177F" stroke="#000" stroke-width="1.7"/>
<circle cx="520.10" cy="82.50" r="3.3" fill="#F6177F" stroke="#000" stroke-width="1.7"/>
<circle cx="520.10" cy="117.50" r="3.3" fill="#F6177F" stroke="#000" stroke-width="1.7"/>
<circle cx="520.10" cy="126.20" r="3.3" fill="#F6177F" stroke="#000" stroke-width="1.7"/>
<circle cx="520.10" cy="131.60" r="3.3" fill="#F6177F" stroke="#000" stroke-width="1.7"/>
<circle cx="520.10" cy="137.20" r="3.3" fill="#F6177F" stroke="#000" stroke-width="1.7"/>
<circle cx="520.10" cy="142.80" r="3.3" fill="#F6177F" stroke="#000" stroke-width="1.7"/>
<circle cx="520.10" cy="144.50" r="3.3" fill="#F6177F" stroke="#000" stroke-width="1.7"/>
<circle cx="520.10" cy="147.20" r="3.3" fill="#F6177F" stroke="#000" stroke-width="1.7"/>
<circle cx="520.10" cy="165.10" r="3.3" fill="#F6177F" stroke="#000" stroke-width="1.7"/>
<rect x="570.20" y="157.40" width="6.6" height="6.6" fill="#000" stroke="none" stroke-width="0"/>
<rect x="570.20" y="181.70" width="6.6" height="6.6" fill="#000" stroke="none" stroke-width="0"/>
<rect x="570.20" y="183.70" width="6.6" height="6.6" fill="#000" stroke="none" stroke-width="0"/>
<rect x="570.20" y="196.70" width="6.6" height="6.6" fill="#000" stroke="none" stroke-width="0"/>
<rect x="570.20" y="198.70" width="6.6" height="6.6" fill="#000" stroke="none" stroke-width="0"/>
<rect x="570.20" y="201.70" width="6.6" height="6.6" fill="#000" stroke="none" stroke-width="0"/>
<rect x="570.20" y="216.70" width="6.6" height="6.6" fill="#000" stroke="none" stroke-width="0"/>
<rect x="570.20" y="219.70" width="6.6" height="6.6" fill="#000" stroke="none" stroke-width="0"/>
<circle cx="605.70" cy="76.60" r="3.3" fill="#F6177F" stroke="#000" stroke-width="1.7"/>
<circle cx="605.70" cy="79.60" r="3.3" fill="#F6177F" stroke="#000" stroke-width="1.7"/>
<circle cx="605.70" cy="86.60" r="3.3" fill="#F6177F" stroke="#000" stroke-width="1.7"/>
<circle cx="605.70" cy="116.30" r="3.3" fill="#F6177F" stroke="#000" stroke-width="1.7"/>
<circle cx="605.70" cy="134.30" r="3.3" fill="#F6177F" stroke="#000" stroke-width="1.7"/>
<circle cx="605.70" cy="137.30" r="3.3" fill="#F6177F" stroke="#000" stroke-width="1.7"/>
<circle cx="605.70" cy="157.70" r="3.3" fill="#F6177F" stroke="#000" stroke-width="1.7"/>
<circle cx="605.70" cy="160.10" r="3.3" fill="#F6177F" stroke="#000" stroke-width="1.7"/>
<text x="0" y="0" font-size="25.15" font-weight="bold" class="L" transform="translate(379.27,349.05) scale(0.941,1)">D</text>
<text x="547.40" y="368.80" font-size="15.3" font-weight="bold" text-anchor="middle" class="h">MDS Blasts</text>
<text x="0" y="0" font-size="13.31" font-weight="bold" class="h" text-anchor="middle" transform="translate(430.60,487.40) rotate(-90)">Specific blast lysis (%)</text>
<text x="457.25" y="607.50" font-size="13.23" font-weight="bold" text-anchor="start" class="h">Antibody concentration (pM)</text>
<line x1="452.90" y1="629.90" x2="470.10" y2="629.90" stroke="#a0a0a0" stroke-width="1.5"/>
<circle cx="461.50" cy="629.90" r="3.3" fill="#F6177F" stroke="#000" stroke-width="1.7"/>
<text x="480.03" y="634.60" font-size="12.9" font-weight="bold" text-anchor="start" class="h">AFM28</text>
<line x1="544.90" y1="629.90" x2="562.00" y2="629.90" stroke="#a0a0a0" stroke-width="1.5"/>
<rect x="550.25" y="626.70" width="6.4" height="6.4" fill="#000" stroke="none" stroke-width="0"/>
<text x="571.89" y="634.60" font-size="13.2" font-weight="bold" text-anchor="start" class="h">RSV/CD16A</text>
<line x1="467.10" y1="407.25" x2="467.10" y2="567.80" stroke="#000" stroke-width="1.7"/>
<line x1="460.50" y1="567.80" x2="627.70" y2="567.80" stroke="#000" stroke-width="1.7"/>
<line x1="460.50" y1="408.10" x2="467.10" y2="408.10" stroke="#000" stroke-width="1.7"/>
<text x="458.40" y="412.25" font-size="11.5" font-weight="bold" text-anchor="end">100</text>
<line x1="460.50" y1="469.55" x2="467.10" y2="469.55" stroke="#000" stroke-width="1.7"/>
<text x="458.40" y="473.70" font-size="11.5" font-weight="bold" text-anchor="end">50</text>
<line x1="460.50" y1="531.00" x2="467.10" y2="531.00" stroke="#000" stroke-width="1.7"/>
<text x="458.40" y="535.15" font-size="11.5" font-weight="bold" text-anchor="end">0</text>
<line x1="460.50" y1="567.87" x2="467.10" y2="567.87" stroke="#000" stroke-width="1.7"/>
<text x="458.40" y="572.02" font-size="11.5" font-weight="bold" text-anchor="end">-30</text>
<line x1="504.60" y1="567.80" x2="504.60" y2="574.40" stroke="#000" stroke-width="1.7"/>
<text x="504.60" y="587.10" font-size="11.5" font-weight="bold" text-anchor="middle">10</text>
<line x1="589.80" y1="567.80" x2="589.80" y2="574.40" stroke="#000" stroke-width="1.7"/>
<text x="589.80" y="587.10" font-size="11.5" font-weight="bold" text-anchor="middle">100</text>
<line x1="471.00" y1="531.10" x2="626.70" y2="531.10" stroke="#000" stroke-width="1.8" stroke-dasharray="1.8 3.0"/>
<text x="504.20" y="406.70" font-size="10.75" font-weight="normal" text-anchor="middle">&lt;0.0001</text>
<line x1="489.00" y1="413.70" x2="520.80" y2="413.70" stroke="#000" stroke-width="2.0"/>
<text x="590.00" y="406.60" font-size="10.75" font-weight="normal" text-anchor="middle">&lt;0.0001</text>
<line x1="574.20" y1="413.80" x2="605.90" y2="413.80" stroke="#000" stroke-width="2.0"/>
<line x1="488.50" y1="510.40" x2="520.80" y2="465.70" stroke="#111" stroke-width="0.65"/>
<line x1="488.50" y1="548.50" x2="520.80" y2="447.10" stroke="#111" stroke-width="0.65"/>
<line x1="488.50" y1="553.00" x2="520.80" y2="460.90" stroke="#111" stroke-width="0.65"/>
<line x1="488.50" y1="557.50" x2="520.80" y2="469.00" stroke="#111" stroke-width="0.65"/>
<line x1="488.50" y1="562.50" x2="520.80" y2="471.80" stroke="#111" stroke-width="0.65"/>
<line x1="574.00" y1="517.80" x2="606.00" y2="425.70" stroke="#111" stroke-width="0.65"/>
<line x1="574.00" y1="532.00" x2="606.00" y2="485.00" stroke="#111" stroke-width="0.65"/>
<line x1="574.00" y1="536.00" x2="606.00" y2="440.30" stroke="#111" stroke-width="0.65"/>
<line x1="574.00" y1="539.50" x2="606.00" y2="451.20" stroke="#111" stroke-width="0.65"/>
<line x1="574.00" y1="562.50" x2="606.00" y2="442.00" stroke="#111" stroke-width="0.65"/>
<rect x="485.20" y="507.10" width="6.6" height="6.6" fill="#000" stroke="none" stroke-width="0"/>
<rect x="485.20" y="545.20" width="6.6" height="6.6" fill="#000" stroke="none" stroke-width="0"/>
<rect x="485.20" y="549.70" width="6.6" height="6.6" fill="#000" stroke="none" stroke-width="0"/>
<rect x="485.20" y="554.20" width="6.6" height="6.6" fill="#000" stroke="none" stroke-width="0"/>
<rect x="485.20" y="559.20" width="6.6" height="6.6" fill="#000" stroke="none" stroke-width="0"/>
<circle cx="520.80" cy="447.10" r="3.3" fill="#F6177F" stroke="#000" stroke-width="1.7"/>
<circle cx="520.80" cy="460.90" r="3.3" fill="#F6177F" stroke="#000" stroke-width="1.7"/>
<circle cx="520.80" cy="465.70" r="3.3" fill="#F6177F" stroke="#000" stroke-width="1.7"/>
<circle cx="520.80" cy="469.00" r="3.3" fill="#F6177F" stroke="#000" stroke-width="1.7"/>
<circle cx="520.80" cy="471.80" r="3.3" fill="#F6177F" stroke="#000" stroke-width="1.7"/>
<rect x="570.70" y="514.50" width="6.6" height="6.6" fill="#000" stroke="none" stroke-width="0"/>
<rect x="570.70" y="528.70" width="6.6" height="6.6" fill="#000" stroke="none" stroke-width="0"/>
<rect x="570.70" y="532.70" width="6.6" height="6.6" fill="#000" stroke="none" stroke-width="0"/>
<rect x="570.70" y="536.20" width="6.6" height="6.6" fill="#000" stroke="none" stroke-width="0"/>
<rect x="570.70" y="559.20" width="6.6" height="6.6" fill="#000" stroke="none" stroke-width="0"/>
<circle cx="606.00" cy="425.70" r="3.3" fill="#F6177F" stroke="#000" stroke-width="1.7"/>
<circle cx="606.00" cy="440.30" r="3.3" fill="#F6177F" stroke="#000" stroke-width="1.7"/>
<circle cx="606.00" cy="442.00" r="3.3" fill="#F6177F" stroke="#000" stroke-width="1.7"/>
<circle cx="606.00" cy="451.20" r="3.3" fill="#F6177F" stroke="#000" stroke-width="1.7"/>
<circle cx="606.00" cy="485.00" r="3.3" fill="#F6177F" stroke="#000" stroke-width="1.7"/>
<text x="0" y="0" font-size="23.69" font-weight="bold" class="L" transform="translate(378.65,684.15) scale(0.882,1)">F</text>
<text x="547.30" y="695.50" font-size="15.3" font-weight="bold" text-anchor="middle" class="h">AML Blasts</text>
<text x="547.30" y="713.10" font-size="15.3" font-weight="bold" text-anchor="middle" class="h">CD64 low</text>
<text x="0" y="0" font-size="13.39" font-weight="bold" class="h" text-anchor="middle" transform="translate(430.00,832.50) rotate(-90)">Specific blast lysis (%)</text>
<text x="457.05" y="953.00" font-size="13.3" font-weight="bold" text-anchor="start" class="h">Antibody concentration (pM)</text>
<line x1="397.00" y1="976.60" x2="414.70" y2="976.60" stroke="#333" stroke-width="1.2"/>
<circle cx="405.85" cy="976.60" r="3.3" fill="#F6177F" stroke="#000" stroke-width="1.7"/>
<text x="424.63" y="981.80" font-size="12.9" font-weight="bold" text-anchor="start" class="h">AFM28</text>
<line x1="475.20" y1="976.70" x2="492.70" y2="976.70" stroke="#333" stroke-width="1.2"/>
<rect x="480.80" y="973.55" width="6.3" height="6.3" fill="#5656F8" stroke="#000" stroke-width="1.6"/>
<text x="502.18" y="981.80" font-size="13.35" font-weight="bold" text-anchor="start" class="h">Fc-enhanced anti-CD123 IgG</text>
<line x1="466.90" y1="752.00" x2="466.90" y2="913.30" stroke="#000" stroke-width="1.7"/>
<line x1="460.00" y1="913.30" x2="628.20" y2="913.30" stroke="#000" stroke-width="1.7"/>
<line x1="460.00" y1="752.85" x2="466.90" y2="752.85" stroke="#000" stroke-width="1.7"/>
<text x="458.20" y="757.00" font-size="11.7" font-weight="bold" text-anchor="end">100</text>
<line x1="460.00" y1="814.73" x2="466.90" y2="814.73" stroke="#000" stroke-width="1.7"/>
<text x="458.20" y="818.88" font-size="11.7" font-weight="bold" text-anchor="end">50</text>
<line x1="460.00" y1="876.60" x2="466.90" y2="876.60" stroke="#000" stroke-width="1.7"/>
<text x="458.20" y="880.75" font-size="11.7" font-weight="bold" text-anchor="end">0</text>
<line x1="460.00" y1="913.73" x2="466.90" y2="913.73" stroke="#000" stroke-width="1.7"/>
<text x="458.20" y="917.88" font-size="11.7" font-weight="bold" text-anchor="end">-30</text>
<line x1="504.60" y1="913.30" x2="504.60" y2="920.20" stroke="#000" stroke-width="1.7"/>
<text x="504.60" y="932.70" font-size="11.7" font-weight="bold" text-anchor="middle">10</text>
<line x1="589.80" y1="913.30" x2="589.80" y2="920.20" stroke="#000" stroke-width="1.7"/>
<text x="589.80" y="932.70" font-size="11.7" font-weight="bold" text-anchor="middle">100</text>
<line x1="470.80" y1="876.40" x2="627.20" y2="876.40" stroke="#000" stroke-width="1.8" stroke-dasharray="1.8 3.0"/>
<text x="504.50" y="738.80" font-size="10.75" font-weight="normal" text-anchor="middle">0.0369</text>
<line x1="488.30" y1="745.80" x2="520.70" y2="745.80" stroke="#000" stroke-width="2.0"/>
<text x="590.10" y="738.80" font-size="10.75" font-weight="normal" text-anchor="middle">0.0374</text>
<line x1="574.00" y1="745.80" x2="606.20" y2="745.80" stroke="#000" stroke-width="2.0"/>
<line x1="488.40" y1="803.10" x2="520.60" y2="762.80" stroke="#111" stroke-width="0.65"/>
<line x1="488.40" y1="829.00" x2="520.60" y2="797.80" stroke="#111" stroke-width="0.65"/>
<line x1="488.40" y1="847.10" x2="520.60" y2="807.00" stroke="#111" stroke-width="0.65"/>
<line x1="488.40" y1="847.10" x2="520.60" y2="822.00" stroke="#111" stroke-width="0.65"/>
<line x1="488.40" y1="849.60" x2="520.60" y2="824.80" stroke="#111" stroke-width="0.65"/>
<line x1="574.20" y1="788.80" x2="606.40" y2="756.60" stroke="#111" stroke-width="0.65"/>
<line x1="574.20" y1="798.80" x2="606.40" y2="790.10" stroke="#111" stroke-width="0.65"/>
<line x1="574.20" y1="803.90" x2="606.40" y2="792.10" stroke="#111" stroke-width="0.65"/>
<line x1="574.20" y1="817.20" x2="606.40" y2="753.30" stroke="#111" stroke-width="0.65"/>
<line x1="574.20" y1="823.30" x2="606.40" y2="779.10" stroke="#111" stroke-width="0.65"/>
<rect x="485.25" y="799.95" width="6.3" height="6.3" fill="#5656F8" stroke="#000" stroke-width="1.5"/>
<rect x="485.25" y="825.85" width="6.3" height="6.3" fill="#5656F8" stroke="#000" stroke-width="1.5"/>
<rect x="485.25" y="843.95" width="6.3" height="6.3" fill="#5656F8" stroke="#000" stroke-width="1.5"/>
<rect x="485.25" y="843.95" width="6.3" height="6.3" fill="#5656F8" stroke="#000" stroke-width="1.5"/>
<rect x="485.25" y="846.45" width="6.3" height="6.3" fill="#5656F8" stroke="#000" stroke-width="1.5"/>
<circle cx="520.60" cy="762.80" r="3.3" fill="#F6177F" stroke="#000" stroke-width="1.7"/>
<circle cx="520.60" cy="797.80" r="3.3" fill="#F6177F" stroke="#000" stroke-width="1.7"/>
<circle cx="520.60" cy="807.00" r="3.3" fill="#F6177F" stroke="#000" stroke-width="1.7"/>
<circle cx="520.60" cy="822.00" r="3.3" fill="#F6177F" stroke="#000" stroke-width="1.7"/>
<circle cx="520.60" cy="824.80" r="3.3" fill="#F6177F" stroke="#000" stroke-width="1.7"/>
<rect x="571.05" y="785.65" width="6.3" height="6.3" fill="#5656F8" stroke="#000" stroke-width="1.5"/>
<rect x="571.05" y="795.65" width="6.3" height="6.3" fill="#5656F8" stroke="#000" stroke-width="1.5"/>
<rect x="571.05" y="800.75" width="6.3" height="6.3" fill="#5656F8" stroke="#000" stroke-width="1.5"/>
<rect x="571.05" y="814.05" width="6.3" height="6.3" fill="#5656F8" stroke="#000" stroke-width="1.5"/>
<rect x="571.05" y="820.15" width="6.3" height="6.3" fill="#5656F8" stroke="#000" stroke-width="1.5"/>
<circle cx="606.40" cy="753.30" r="3.3" fill="#F6177F" stroke="#000" stroke-width="1.7"/>
<circle cx="606.40" cy="756.60" r="3.3" fill="#F6177F" stroke="#000" stroke-width="1.7"/>
<circle cx="606.40" cy="779.10" r="3.3" fill="#F6177F" stroke="#000" stroke-width="1.7"/>
<circle cx="606.40" cy="790.10" r="3.3" fill="#F6177F" stroke="#000" stroke-width="1.7"/>
<circle cx="606.40" cy="792.10" r="3.3" fill="#F6177F" stroke="#000" stroke-width="1.7"/>
<text x="0" y="0" font-size="25.44" font-weight="bold" class="L" transform="translate(380.53,1031.85) scale(0.889,1)">H</text>
<text x="547.30" y="1040.10" font-size="15.3" font-weight="bold" text-anchor="middle" class="h">AML Blasts</text>
<text x="547.30" y="1057.90" font-size="15.3" font-weight="bold" text-anchor="middle" class="h">CD64 high</text>
<text x="0" y="0" font-size="13.39" font-weight="bold" class="h" text-anchor="middle" transform="translate(430.00,1177.50) rotate(-90)">Specific blast lysis (%)</text>
<text x="457.05" y="1298.40" font-size="13.3" font-weight="bold" text-anchor="start" class="h">Antibody concentration (pM)</text>
<line x1="398.00" y1="1321.50" x2="415.60" y2="1321.50" stroke="#333" stroke-width="1.2"/>
<circle cx="406.80" cy="1321.50" r="3.3" fill="#F6177F" stroke="#000" stroke-width="1.7"/>
<text x="425.63" y="1326.60" font-size="12.9" font-weight="bold" text-anchor="start" class="h">AFM28</text>
<line x1="476.30" y1="1321.60" x2="493.80" y2="1321.60" stroke="#333" stroke-width="1.2"/>
<rect x="481.90" y="1318.45" width="6.3" height="6.3" fill="#5656F8" stroke="#000" stroke-width="1.6"/>
<text x="503.28" y="1326.60" font-size="13.35" font-weight="bold" text-anchor="start" class="h">Fc-enhanced anti-CD123 IgG</text>
<line x1="466.90" y1="1097.05" x2="466.90" y2="1258.50" stroke="#000" stroke-width="1.7"/>
<line x1="460.00" y1="1258.50" x2="628.20" y2="1258.50" stroke="#000" stroke-width="1.7"/>
<line x1="460.00" y1="1097.90" x2="466.90" y2="1097.90" stroke="#000" stroke-width="1.7"/>
<text x="458.20" y="1102.05" font-size="11.7" font-weight="bold" text-anchor="end">100</text>
<line x1="460.00" y1="1159.75" x2="466.90" y2="1159.75" stroke="#000" stroke-width="1.7"/>
<text x="458.20" y="1163.90" font-size="11.7" font-weight="bold" text-anchor="end">50</text>
<line x1="460.00" y1="1221.60" x2="466.90" y2="1221.60" stroke="#000" stroke-width="1.7"/>
<text x="458.20" y="1225.75" font-size="11.7" font-weight="bold" text-anchor="end">0</text>
<line x1="460.00" y1="1258.71" x2="466.90" y2="1258.71" stroke="#000" stroke-width="1.7"/>
<text x="458.20" y="1262.86" font-size="11.7" font-weight="bold" text-anchor="end">-30</text>
<line x1="504.70" y1="1258.50" x2="504.70" y2="1265.40" stroke="#000" stroke-width="1.7"/>
<text x="504.70" y="1277.90" font-size="11.7" font-weight="bold" text-anchor="middle">10</text>
<line x1="589.80" y1="1258.50" x2="589.80" y2="1265.40" stroke="#000" stroke-width="1.7"/>
<text x="589.80" y="1277.90" font-size="11.7" font-weight="bold" text-anchor="middle">100</text>
<line x1="470.80" y1="1221.60" x2="627.20" y2="1221.60" stroke="#000" stroke-width="1.8" stroke-dasharray="1.8 3.0"/>
<text x="504.50" y="1084.00" font-size="10.75" font-weight="normal" text-anchor="middle">0.0335</text>
<line x1="488.30" y1="1091.00" x2="520.70" y2="1091.00" stroke="#000" stroke-width="2.0"/>
<text x="590.10" y="1084.00" font-size="10.75" font-weight="normal" text-anchor="middle">0.0164</text>
<line x1="574.20" y1="1090.80" x2="606.00" y2="1090.80" stroke="#000" stroke-width="2.0"/>
<line x1="488.40" y1="1183.20" x2="520.50" y2="1105.80" stroke="#111" stroke-width="0.65"/>
<line x1="488.40" y1="1186.20" x2="520.50" y2="1191.00" stroke="#111" stroke-width="0.65"/>
<line x1="488.40" y1="1191.60" x2="520.50" y2="1156.80" stroke="#111" stroke-width="0.65"/>
<line x1="488.40" y1="1197.90" x2="520.50" y2="1173.20" stroke="#111" stroke-width="0.65"/>
<line x1="488.40" y1="1246.50" x2="520.50" y2="1162.60" stroke="#111" stroke-width="0.65"/>
<line x1="573.90" y1="1157.40" x2="606.30" y2="1111.80" stroke="#111" stroke-width="0.65"/>
<line x1="573.90" y1="1171.10" x2="606.30" y2="1124.70" stroke="#111" stroke-width="0.65"/>
<line x1="573.90" y1="1187.40" x2="606.30" y2="1101.40" stroke="#111" stroke-width="0.65"/>
<line x1="573.90" y1="1189.00" x2="606.30" y2="1149.30" stroke="#111" stroke-width="0.65"/>
<line x1="573.90" y1="1195.30" x2="606.30" y2="1170.00" stroke="#111" stroke-width="0.65"/>
<rect x="485.25" y="1180.05" width="6.3" height="6.3" fill="#5656F8" stroke="#000" stroke-width="1.5"/>
<rect x="485.25" y="1183.05" width="6.3" height="6.3" fill="#5656F8" stroke="#000" stroke-width="1.5"/>
<rect x="485.25" y="1188.45" width="6.3" height="6.3" fill="#5656F8" stroke="#000" stroke-width="1.5"/>
<rect x="485.25" y="1194.75" width="6.3" height="6.3" fill="#5656F8" stroke="#000" stroke-width="1.5"/>
<rect x="485.25" y="1243.35" width="6.3" height="6.3" fill="#5656F8" stroke="#000" stroke-width="1.5"/>
<circle cx="520.50" cy="1105.80" r="3.3" fill="#F6177F" stroke="#000" stroke-width="1.7"/>
<circle cx="520.50" cy="1156.80" r="3.3" fill="#F6177F" stroke="#000" stroke-width="1.7"/>
<circle cx="520.50" cy="1162.60" r="3.3" fill="#F6177F" stroke="#000" stroke-width="1.7"/>
<circle cx="520.50" cy="1173.20" r="3.3" fill="#F6177F" stroke="#000" stroke-width="1.7"/>
<circle cx="520.50" cy="1191.00" r="3.3" fill="#F6177F" stroke="#000" stroke-width="1.7"/>
<rect x="570.75" y="1154.25" width="6.3" height="6.3" fill="#5656F8" stroke="#000" stroke-width="1.5"/>
<rect x="570.75" y="1167.95" width="6.3" height="6.3" fill="#5656F8" stroke="#000" stroke-width="1.5"/>
<rect x="570.75" y="1184.25" width="6.3" height="6.3" fill="#5656F8" stroke="#000" stroke-width="1.5"/>
<rect x="570.75" y="1185.85" width="6.3" height="6.3" fill="#5656F8" stroke="#000" stroke-width="1.5"/>
<rect x="570.75" y="1192.15" width="6.3" height="6.3" fill="#5656F8" stroke="#000" stroke-width="1.5"/>
<circle cx="606.30" cy="1101.40" r="3.3" fill="#F6177F" stroke="#000" stroke-width="1.7"/>
<circle cx="606.30" cy="1111.80" r="3.3" fill="#F6177F" stroke="#000" stroke-width="1.7"/>
<circle cx="606.30" cy="1124.70" r="3.3" fill="#F6177F" stroke="#000" stroke-width="1.7"/>
<circle cx="606.30" cy="1149.30" r="3.3" fill="#F6177F" stroke="#000" stroke-width="1.7"/>
<circle cx="606.30" cy="1170.00" r="3.3" fill="#F6177F" stroke="#000" stroke-width="1.7"/>
</svg>
</body></html>
